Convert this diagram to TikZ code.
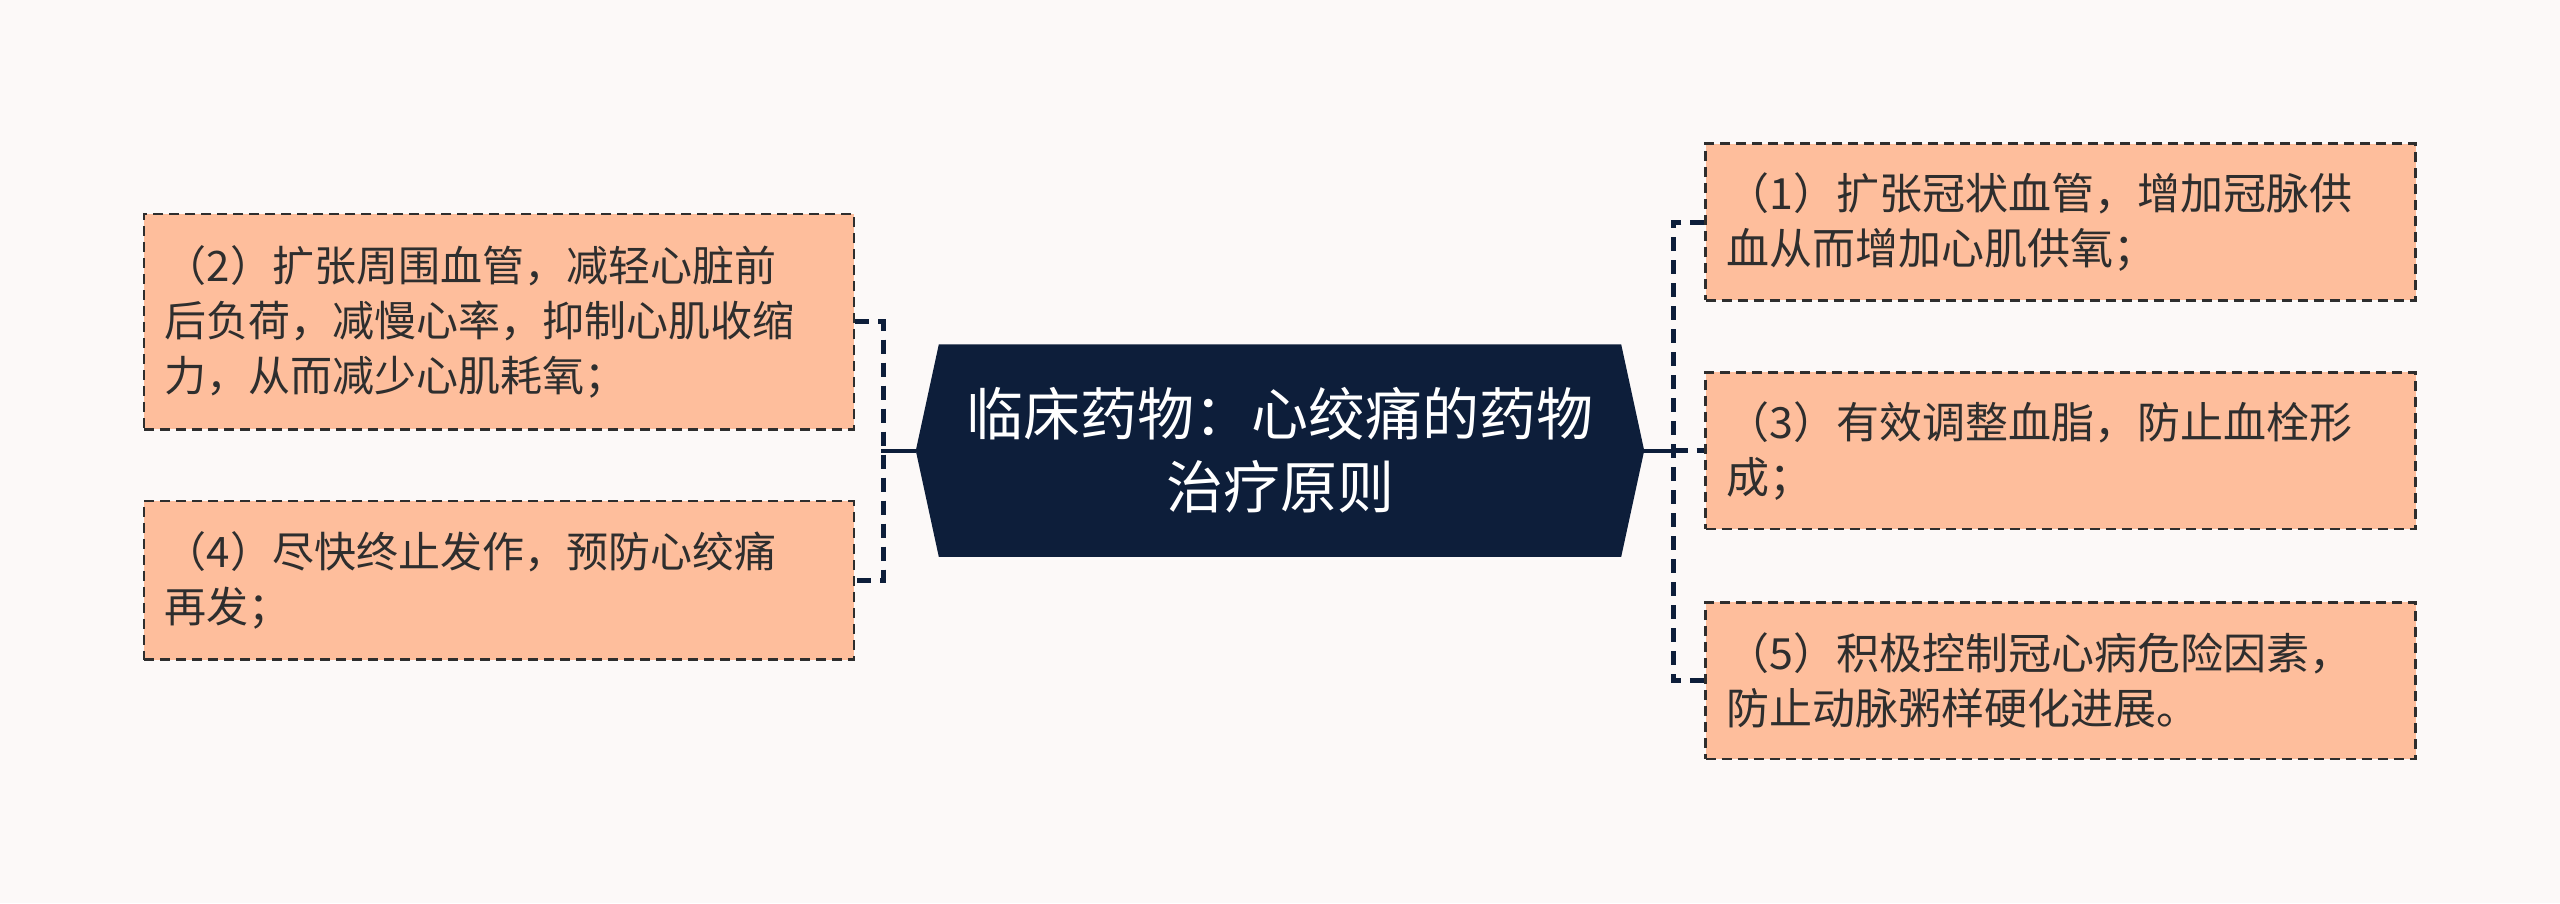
\documentclass[tikz,border=0pt]{standalone}
\usepackage{fontspec}
\newfontfamily\cjk{Noto Sans CJK SC}
\usetikzlibrary{positioning, calc}
\definecolor{navy}{HTML}{0D1E3A}
\definecolor{peach}{HTML}{FEBE9C}
\definecolor{paper}{HTML}{FCF9F8}
\definecolor{ink}{HTML}{2E2E2E}
\pgfdeclarelayer{background}
\pgfsetlayers{background,main}

\begin{document}
\begin{tikzpicture}[x=1pt,y=-1pt,
  root/.style={minimum width=728pt, minimum height=212pt, align=center, text=white, font=\cjk\fontsize{57}{73}\selectfont},
  leaf/.style={draw=ink, line width=2.5pt, dash pattern=on 10pt off 6pt, fill=peach, text=ink, text width=668pt, inner xsep=21pt, align=left, font=\cjk\fontsize{42}{55}\selectfont},
  rleaf/.style={leaf, font=\cjk\fontsize{43}{55}\selectfont},
  link/.style={draw=navy, line width=4pt},
  dashlink/.style={draw=navy, line width=5pt, dash pattern=on 14pt off 9pt}]

\node[root] (root) at (1280,450.6) {临床药物：心绞痛的药物\\治疗原则};

% left side
\node[leaf, minimum height=215.5pt] (b2) at (498.8,321.6) {（2）扩张周围血管，减轻心脏前\\后负荷，减慢心率，抑制心肌收缩\\力，从而减少心肌耗氧；};
\node[leaf, minimum height=158.4pt] (b4) at (498.8,580.4) {（4）尽快终止发作，预防心绞痛\\再发；};

% right side
\node[rleaf, minimum height=156.7pt] (b1) at (2060.5,222) {（1）扩张冠状血管，增加冠脉供\\血从而增加心肌供氧；};
\node[rleaf, minimum height=156.7pt] (b3) at (2060.5,450.6) {（3）有效调整血脂，防止血栓形\\成；};
\node[rleaf, minimum height=156.7pt] (b5) at (2060.5,680.8) {（5）积极控制冠心病危险因素，\\防止动脉粥样硬化进展。};

\coordinate (lt) at (883,450.6);
\coordinate (rt) at (1673.5,450.6);

\begin{pgfonlayer}{background}
\fill[paper] (0,0) rectangle (2560,903);
\fill[navy] (root.west) -- ($(root.north west)+(23,0)$) -- ($(root.north east)+(-23,0)$)
  -- (root.east) -- ($(root.south east)+(-23,0)$) -- ($(root.south west)+(23,0)$) -- cycle;
\end{pgfonlayer}

\draw[dashlink] (b2.east) -| (lt) |- (b4.east);
\draw[link] (root.west) -- ($(lt)+(-2.5,0)$);
\draw[dashlink] (b1.west) -| (rt) |- (b5.west);
\draw[dashlink] (rt) -- (b3.west);
\draw[link] (root.east) -- ($(rt)+(5,0)$);
\end{tikzpicture}
\end{document}
